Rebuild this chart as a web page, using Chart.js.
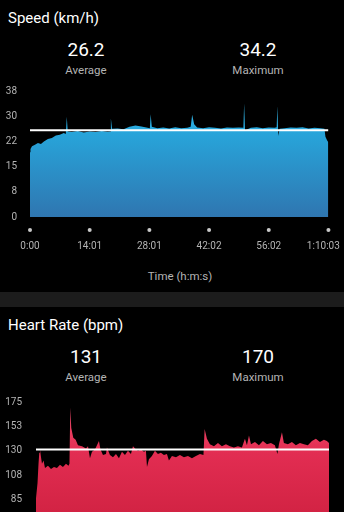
<!DOCTYPE html>
<html>
<head>
<meta charset="utf-8">
<script src="https://cdn.jsdelivr.net/npm/chart.js@4.4.1/dist/chart.umd.min.js"></script>
<style>
  body { margin: 0; background: #000; width: 344px; height: 512px; overflow: hidden; position: relative; font-family: Roboto, sans-serif; }
  .title { position: absolute; left: 8px; font-size: 15px; line-height: 20px; color: #fff; }
  .stat { position: absolute; width: 172px; text-align: center; }
  .big { font-size: 19px; line-height: 24px; color: #fff; }
  .small { font-size: 11.5px; line-height: 16px; color: #b4b4b4; }
  .sep { position: absolute; left: 0; top: 292px; width: 344px; height: 15px; background: #1c1c1c; }
  canvas { position: absolute; left: 0; }
</style>
</head>
<body>
<div class="title" style="top:8px">Speed (km/h)</div>
<div class="stat big" style="left:0;top:38px">26.2</div>
<div class="stat small" style="left:0;top:62px">Average</div>
<div class="stat big" style="left:172px;top:38px">34.2</div>
<div class="stat small" style="left:172px;top:62px">Maximum</div>
<canvas id="speedChart" width="365" height="177" style="top:80px"></canvas>
<div class="small" style="position:absolute;left:30px;width:300px;text-align:center;top:268px">Time (h:m:s)</div>
<div class="sep"></div>
<div class="title" style="top:315px">Heart Rate (bpm)</div>
<div class="stat big" style="left:0;top:345px">131</div>
<div class="stat small" style="left:0;top:369px">Average</div>
<div class="stat big" style="left:172px;top:345px">170</div>
<div class="stat small" style="left:172px;top:369px">Maximum</div>
<canvas id="hrChart" width="344" height="170" style="top:390px"></canvas>
<script>
// Speed data (time in seconds)
const speedTimes = [0, 7, 28, 70, 112, 154, 196, 252, 308, 364, 420, 476, 504, 518, 532, 588, 672, 757, 841, 925,
  1009, 1093, 1128, 1139, 1156, 1233, 1317, 1401, 1485, 1569, 1639, 1688, 1699, 1716, 1793, 1877, 1961, 2045, 2130, 2214,
  2263, 2284, 2312, 2354, 2438, 2522, 2606, 2690, 2774, 2858, 2942, 3005, 3016, 3029, 3047, 3110, 3194, 3278, 3362, 3446,
  3474, 3484, 3497, 3516, 3587, 3671, 3755, 3839, 3923, 4007, 4091, 4147, 4161, 4182, 4203];
const speedValues = [19.5, 20.5, 21.3, 21.8, 22.3, 22.0, 22.8, 23.5, 23.8, 24.6, 24.8, 25.3, 25.0, 30.2, 25.8, 25.6, 25.9, 25.5, 25.8, 25.6,
  25.9, 25.7, 25.8, 29.8, 26.6, 26.7, 26.5, 27.2, 27.6, 27.3, 27.0, 26.8, 31.0, 27.2, 26.8, 27.0, 26.7, 27.1, 26.8, 26.9,
  27.2, 30.8, 28.0, 27.0, 26.8, 27.1, 26.9, 26.7, 27.0, 26.9, 27.0, 26.9, 34.2, 26.0, 26.3, 26.9, 27.1, 26.8, 27.0, 26.9,
  27.1, 33.5, 24.4, 26.6, 26.8, 27.0, 26.9, 27.1, 26.7, 26.9, 26.8, 26.6, 24.2, 23.2, 22.5];
const speedAverage = 26.2;
const speedTicks = [0, 7.6, 15.2, 22.8, 30.4, 38];
const speedTickLabels = ['0', '8', '15', '22', '30', '38'];

// Heart rate data (time in seconds)
const hrTimes = [0, 22, 36, 47, 57, 72, 86, 108, 129, 172, 215, 258, 301, 344, 387, 430, 466, 480, 492, 506,
  535, 569, 602, 660, 717, 746, 774, 803, 846, 903, 925, 961, 1004, 1018, 1061, 1104, 1147, 1190, 1233, 1276,
  1319, 1362, 1391, 1420, 1463, 1506, 1549, 1577, 1592, 1620, 1663, 1706, 1749, 1792, 1835, 1878, 1907, 1950, 2008, 2065,
  2122, 2180, 2237, 2294, 2352, 2402, 2419, 2452, 2495, 2553, 2610, 2667, 2725, 2782, 2839, 2897, 2954, 2997, 3026, 3055,
  3084, 3141, 3198, 3255, 3313, 3370, 3427, 3463, 3485, 3528, 3556, 3614, 3671, 3728, 3786, 3843, 3900, 3958, 4015, 4073,
  4130, 4173, 4203];
const hrValues = [86, 100, 118, 128, 131, 124, 118, 121, 114, 116, 113, 115, 114, 117, 115, 118, 116, 118, 170, 151,
  142, 140, 135, 134, 132, 134, 123, 129, 131, 139, 131, 126, 127, 133, 126, 124, 127, 123, 129, 126,
  130, 127, 134, 132, 130, 131, 129, 130, 115, 122, 125, 130, 127, 128, 126, 127, 121, 125, 124, 126,
  124, 125, 123, 125, 127, 126, 150, 141, 136, 134, 137, 134, 136, 134, 133, 134, 133, 141, 135, 144,
  136, 138, 135, 139, 136, 137, 135, 127, 136, 147, 137, 136, 138, 135, 137, 136, 135, 139, 141, 138,
  140, 139, 137];
const hrAverage = 131;
const hrTicks = [40, 62.5, 85, 107.5, 130, 152.5, 175];

// Shared time axis
const timeTicks = [0, 840.6, 1681.2, 2521.8, 3362.4, 4203];
const timeTickLabels = ['0:00', '14:01', '28:01', '42:02', '56:02', '1:10:03'];

const tickColor = '#b4b4b4';

function gradient(stops) {
  return (context) => {
    const { ctx, chartArea } = context.chart;
    if (!chartArea) return null;
    const g = ctx.createLinearGradient(0, chartArea.top, 0, chartArea.bottom);
    stops.forEach(([pos, color]) => g.addColorStop(pos, color));
    return g;
  };
}

// small grey dots above the time labels
const tickDots = {
  id: 'tickDots',
  afterDraw(chart) {
    const sx = chart.scales.x;
    const c = chart.ctx;
    c.save();
    c.fillStyle = '#c8c8c8';
    sx.ticks.forEach((t) => {
      c.beginPath();
      c.arc(sx.getPixelForValue(t.value), chart.chartArea.bottom + 13, 2, 0, Math.PI * 2);
      c.fill();
    });
    c.restore();
  }
};

const toPoints = (xs, ys) => xs.map((x, i) => ({ x, y: ys[i] }));

// Speed chart
new Chart(document.getElementById('speedChart'), {
  type: 'line',
  data: {
    datasets: [{
      data: [{ x: 0, y: speedAverage }, { x: 4203, y: speedAverage }],
      borderColor: '#ffffff',
      borderWidth: 2,
      pointRadius: 0,
      fill: false,
    }, {
      data: toPoints(speedTimes, speedValues),
      borderColor: 'transparent',
      borderWidth: 0,
      pointRadius: 0,
      tension: 0,
      fill: 'origin',
      backgroundColor: gradient([[0, '#3ec2ee'], [0.3, '#27a7dc'], [1, '#2f76b0']]),
    }],
  },
  options: {
    responsive: false,
    animation: false,
    devicePixelRatio: 1,
    layout: { padding: { top: 11, right: 35, left: 0, bottom: 0 } },
    plugins: { legend: { display: false }, tooltip: { enabled: false } },
    scales: {
      x: {
        type: 'linear',
        min: 0,
        max: 4203,
        grid: { display: false },
        border: { display: false },
        afterBuildTicks: (scale) => { scale.ticks = timeTicks.map((v) => ({ value: v })); },
        afterFit: (scale) => { scale.height = 40; },
        ticks: {
          autoSkip: false,
          maxRotation: 0,
          padding: 15,
          color: tickColor,
          font: { family: 'Roboto', size: 10 },
          callback: (v, i) => (i === timeTickLabels.length - 1 ? timeTickLabels[i] + '\u2002\u2002' : timeTickLabels[i]),
        },
      },
      y: {
        min: 0,
        max: 38,
        grid: { display: false },
        border: { display: false },
        afterBuildTicks: (scale) => { scale.ticks = speedTicks.map((v) => ({ value: v })); },
        afterFit: (scale) => { scale.width = 30; },
        ticks: {
          padding: 5,
          color: tickColor,
          font: { family: 'Roboto', size: 10 },
          callback: (v, i) => speedTickLabels[i],
        },
      },
    },
  },
  plugins: [tickDots],
});

// Heart rate chart
new Chart(document.getElementById('hrChart'), {
  type: 'line',
  data: {
    datasets: [{
      data: [{ x: 0, y: hrAverage }, { x: 4203, y: hrAverage }],
      borderColor: '#ffffff',
      borderWidth: 2,
      pointRadius: 0,
      fill: false,
    }, {
      data: toPoints(hrTimes, hrValues),
      borderColor: 'transparent',
      borderWidth: 0,
      pointRadius: 0,
      tension: 0,
      fill: 'origin',
      backgroundColor: gradient([[0, '#f2506f'], [0.35, '#e22d52'], [1, '#c91d3b']]),
    }],
  },
  options: {
    responsive: false,
    animation: false,
    devicePixelRatio: 1,
    layout: { padding: { top: 8, right: 15, left: 0, bottom: 10 } },
    plugins: { legend: { display: false }, tooltip: { enabled: false } },
    scales: {
      x: { type: 'linear', min: 0, max: 4203, display: false },
      y: {
        min: 40,
        max: 175,
        grid: { display: false },
        border: { display: false },
        afterBuildTicks: (scale) => { scale.ticks = hrTicks.map((v) => ({ value: v })); },
        afterFit: (scale) => { scale.width = 36; },
        ticks: {
          padding: 6,
          color: tickColor,
          font: { family: 'Roboto', size: 10 },
          callback: (v) => Math.round(v),
        },
      },
    },
  },
});
</script>
</body>
</html>
